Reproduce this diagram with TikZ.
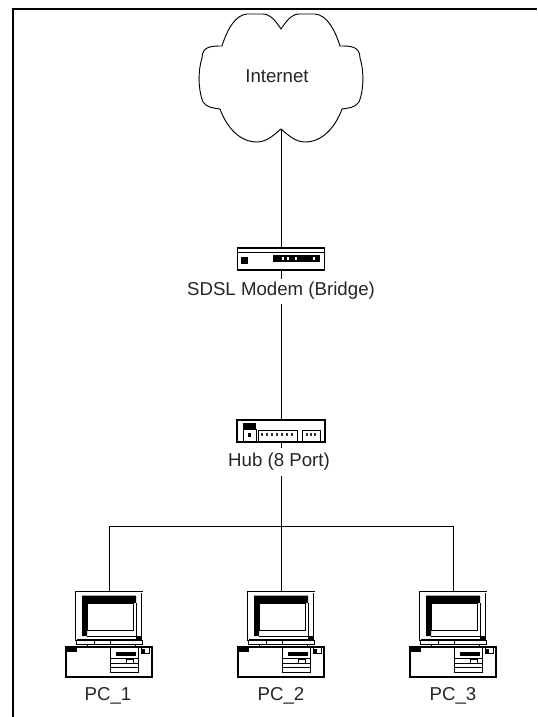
\documentclass[tikz,border=0pt]{standalone}
\usepackage{fontspec}
\setmainfont{Liberation Sans}
\def\px{0.75pt}
\tikzset{
  every picture/.style={x=0.75pt,y=-0.75pt},
  wire/.style={line width=0.7pt,black},
  frameline/.style={line width=1.5pt,black},
  thin line/.style={line width=0.7pt,black},
  iconbox/.style={draw=black,line width=0.8pt,fill=white,inner sep=0pt,outer sep=0pt,rectangle},
  lbl/.style={font=\fontsize{14pt}{15pt}\selectfont,fill=white,inner xsep=1pt,inner ysep=0pt,text=black!85},
  pc/.pic={
    % monitor
    \node[iconbox,double=white,double distance=0.6pt,minimum width=66*\px,minimum height=48*\px] (-monitor) at (0,616) {};
    \fill[black] (-27,595.5) -- (27,595.5) -- (27,603) -- (-22,603) -- (-22,636) -- (-27,636) -- cycle;
    \draw[thin line] (-22,603) rectangle (24,630);
    \draw[thin line] (-22,636) -- (27,636) -- (27,603);
    \fill[black] (27,636) rectangle (33,640);
    % stand
    \draw[thin line] (-33,640) rectangle (33,644);
    \draw[thin line] (-15,640) -- (-15,644) (1,640) -- (1,644);
    \draw[thin line] (-22,644) -- (-22,647) (26,644) -- (26,647);
    % case
    \node[iconbox,minimum width=86*\px,minimum height=30*\px] (-case) at (0,662) {};
    \fill[black] (-42,648) rectangle (-32,651.5);
    \draw[thin line] (1,647) -- (1,672) -- (29,672) -- (29,647);
    \fill[black] (7,652) rectangle (27,655.5);
    \draw[thin line] (1,658) -- (29,658) (1,663.5) -- (29,663.5) (1,667.5) -- (29,667.5);
    \draw[thin line,fill=white] (17,659) rectangle (24,663.5);
    \draw[thin line] (32,647) -- (32,653) -- (40,653) -- (40,647);
    \fill[black] (32,649) rectangle (36,653);
  }
}
\begin{document}
\begin{tikzpicture}
\useasboundingbox (0,0) rectangle (537,717);
\draw[frameline] (13,717) -- (13,9) -- (537,9);

% cloud
\draw[thin line,fill=white] (281,29)
  .. controls (285,23) and (291,14) .. (299,14) -- (315,14)
  .. controls (327,15) and (335,30) .. (340,46)
  .. controls (350,46) and (360,46) .. (360,58)
  .. controls (364,70) and (364,90) .. (359,102)
  .. controls (355,108) and (348,108) .. (342,109)
  .. controls (335,128) and (322,142) .. (305,142)
  .. controls (295,142) and (287,134) .. (281,129)
  .. controls (275,134) and (267,142) .. (257,142)
  .. controls (240,142) and (227,128) .. (220,109)
  .. controls (214,108) and (207,108) .. (203,102)
  .. controls (198,90) and (198,70) .. (202,58)
  .. controls (202,46) and (212,46) .. (222,46)
  .. controls (227,30) and (235,15) .. (247,14) -- (263,14)
  .. controls (271,14) and (277,23) .. (281,29) -- cycle;
\coordinate (cloudtip) at (281,129);
\node[font=\fontsize{14pt}{15pt}\selectfont,text=black!85,inner sep=0pt] (internet) at (277,76) {Internet};

% devices
\node[iconbox,minimum width=87*\px,minimum height=22*\px] (modem) at (281,259) {};
\node[iconbox,minimum width=88*\px,minimum height=22*\px] (hub) at (281,431) {};
\pic (p1) at (109,0) {pc};
\pic (p2) at (281,0) {pc};
\pic (p3) at (453,0) {pc};

% connectors
\coordinate (bus) at (281,526);
\draw[wire] (cloudtip) -- (modem.north);
\draw[wire] (modem.south) -- (hub.north);
\draw[wire] (hub.south) -- (p2-monitor.north);
\draw[wire] (bus) -| (p1-monitor.north);
\draw[wire] (bus) -| (p3-monitor.north);

% modem detail
\draw[thin line] (238,252) -- (325,252);
\fill[black] (241,257) rectangle (248,264);
\fill[black] (273,255) rectangle (320,262);
\foreach \x in {283,288,296,314} \fill[white] (\x-1,257) rectangle (\x+1,260);

% hub detail
\fill[black] (243,423) rectangle (256,429);
\draw[thin line] (243,442) -- (243,429) -- (256,429) -- (256,442);
\draw[thin line] (258,442) -- (258,430) -- (297,430) -- (297,442);
\draw[thin line] (302,442) -- (302,430) -- (320,430) -- (320,442);
\fill[black] (247.5,433) rectangle (251,437);
\foreach \x in {262,267,272,277,282,287,292} \fill[black!80] (\x-1,433) rectangle (\x+1,436);
\foreach \x in {307,311,315} \fill[black!80] (\x-1,433) rectangle (\x+1,436);

% labels
\node[lbl,minimum height=25*\px] (modemlabel) at (281,291) {SDSL Modem (Bridge)};
\node[lbl,minimum height=28*\px] (hublabel) at (279,462) {Hub (8 Port)};
\node[lbl] (pc1label) at (108,696) {PC\_1};
\node[lbl] (pc2label) at (281,696) {PC\_2};
\node[lbl] (pc3label) at (453,696) {PC\_3};
\end{tikzpicture}
\end{document}
